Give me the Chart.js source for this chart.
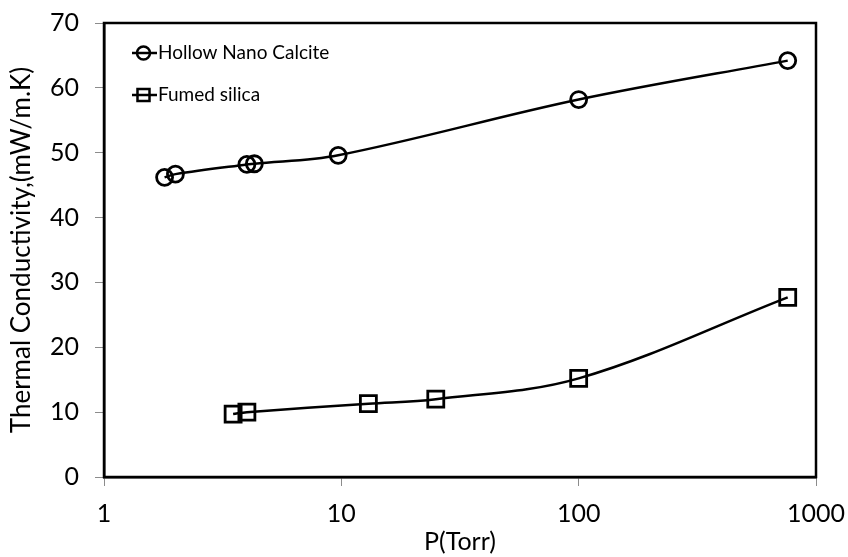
<!DOCTYPE html>
<html>
<head>
<meta charset="utf-8">
<script src="https://cdn.jsdelivr.net/npm/chart.js@4/dist/chart.umd.min.js"></script>
<style>
  html, body { margin: 0; padding: 0; background: #fff; }
  #wrap { width: 848px; height: 557px; position: relative; }
</style>
</head>
<body>
<div id="wrap"><canvas id="chart" width="848" height="557"></canvas></div>
<script>
// Pressure (Torr) and thermal conductivity (mW/m.K) for each material
const pressureCalcite = [1.8, 2, 4, 4.3, 9.7, 100, 760];
const kCalcite = [46.2, 46.7, 48.2, 48.3, 49.6, 58.2, 64.2];
const pressureSilica = [3.5, 4, 13, 25, 100, 760];
const kSilica = [9.7, 10.0, 11.3, 12.0, 15.2, 27.7];

const xTickValues = [1, 10, 100, 1000];
const seriesNames = ['Hollow Nano Calcite', 'Fumed silica'];
const xTitle = 'P(Torr)';
const yTitle = 'Thermal Conductivity,(mW/m.K)';

const FONT = 'Lato, "Open Sans", sans-serif';

const toPoints = (xs, ys) => xs.map((x, i) => ({ x: x, y: ys[i] }));

// Frame around the plot area plus the in-plot legend
const framePlugin = {
  id: 'frame',
  afterDraw(chart) {
    const { ctx, chartArea: a } = chart;
    ctx.save();
    ctx.strokeStyle = '#000';
    ctx.lineWidth = 2.5;
    ctx.strokeRect(a.left, a.top, a.right - a.left, a.bottom - a.top);

    const rows = [
      { y: a.top + 30, style: 'circle', r: 6.5 },
      { y: a.top + 72, style: 'rect', r: 8.5 }
    ];
    const x0 = a.left + 28, x1 = a.left + 53;
    rows.forEach((row, i) => {
      ctx.strokeStyle = '#000';
      ctx.lineWidth = 2.5;
      ctx.beginPath();
      ctx.moveTo(x0, row.y);
      ctx.lineTo(x1, row.y);
      ctx.stroke();
      ctx.fillStyle = 'rgba(0,0,0,0)';
      Chart.helpers.drawPoint(ctx, {
        pointStyle: row.style, radius: row.r, borderWidth: 2.5
      }, (x0 + x1) / 2 - 1, row.y);
      ctx.fillStyle = '#000';
      ctx.font = '19px ' + FONT;
      ctx.textBaseline = 'middle';
      ctx.textAlign = 'left';
      ctx.fillText(seriesNames[i], x1 + 1, row.y);
    });
    ctx.restore();
  }
};

new Chart(document.getElementById('chart'), {
  type: 'line',
  data: {
    datasets: [
      {
        label: seriesNames[0],
        data: toPoints(pressureCalcite, kCalcite),
        borderColor: '#000',
        backgroundColor: 'rgba(0,0,0,0)',
        borderWidth: 2.5,
        pointStyle: 'circle',
        pointRadius: 8,
        pointBorderWidth: 2.8,
        pointBackgroundColor: 'rgba(0,0,0,0)',
        pointBorderColor: '#000',
        tension: 0.35
      },
      {
        label: seriesNames[1],
        data: toPoints(pressureSilica, kSilica),
        borderColor: '#000',
        backgroundColor: 'rgba(0,0,0,0)',
        borderWidth: 2.5,
        pointStyle: 'rect',
        pointRadius: 11.3,
        pointBorderWidth: 2.8,
        pointBackgroundColor: 'rgba(0,0,0,0)',
        pointBorderColor: '#000',
        tension: 0.35
      }
    ]
  },
  options: {
    responsive: false,
    animation: false,
    devicePixelRatio: 1,
    layout: { padding: { top: 23, right: 32, left: 0, bottom: 0 } },
    plugins: {
      legend: { display: false },
      tooltip: { enabled: false }
    },
    scales: {
      x: {
        type: 'logarithmic',
        min: 1,
        max: 1000,
        afterBuildTicks(scale) {
          scale.ticks = xTickValues.map(v => ({ value: v }));
        },
        afterFit(scale) {
          scale.height = 80;
          scale.paddingLeft = 0;
          scale.paddingRight = 0;
        },
        grid: {
          drawOnChartArea: false,
          drawTicks: true,
          tickLength: 9,
          color: '#8c8c8c',
          lineWidth: 1
        },
        border: { display: true, color: '#000', width: 2.5 },
        ticks: {
          color: '#000',
          font: { family: FONT, size: 25 },
          padding: 13,
          maxRotation: 0,
          callback: v => String(v)
        },
        title: {
          display: true,
          text: xTitle,
          color: '#000',
          font: { family: FONT, size: 25 },
          padding: { top: 0, bottom: 0 }
        }
      },
      y: {
        min: 0,
        max: 70,
        afterFit(scale) {
          scale.width = 104;
          scale.paddingTop = 0;
          scale.paddingBottom = 0;
        },
        grid: {
          drawOnChartArea: false,
          drawTicks: true,
          tickLength: 9,
          color: '#8c8c8c',
          lineWidth: 1
        },
        border: { display: true, color: '#000', width: 2.5 },
        ticks: {
          stepSize: 10,
          color: '#000',
          font: { family: FONT, size: 25 },
          padding: 16
        },
        title: {
          display: true,
          text: yTitle,
          color: '#000',
          font: { family: FONT, size: 26 },
          padding: { top: 6, bottom: 4 }
        }
      }
    }
  },
  plugins: [framePlugin]
});
</script>
</body>
</html>
